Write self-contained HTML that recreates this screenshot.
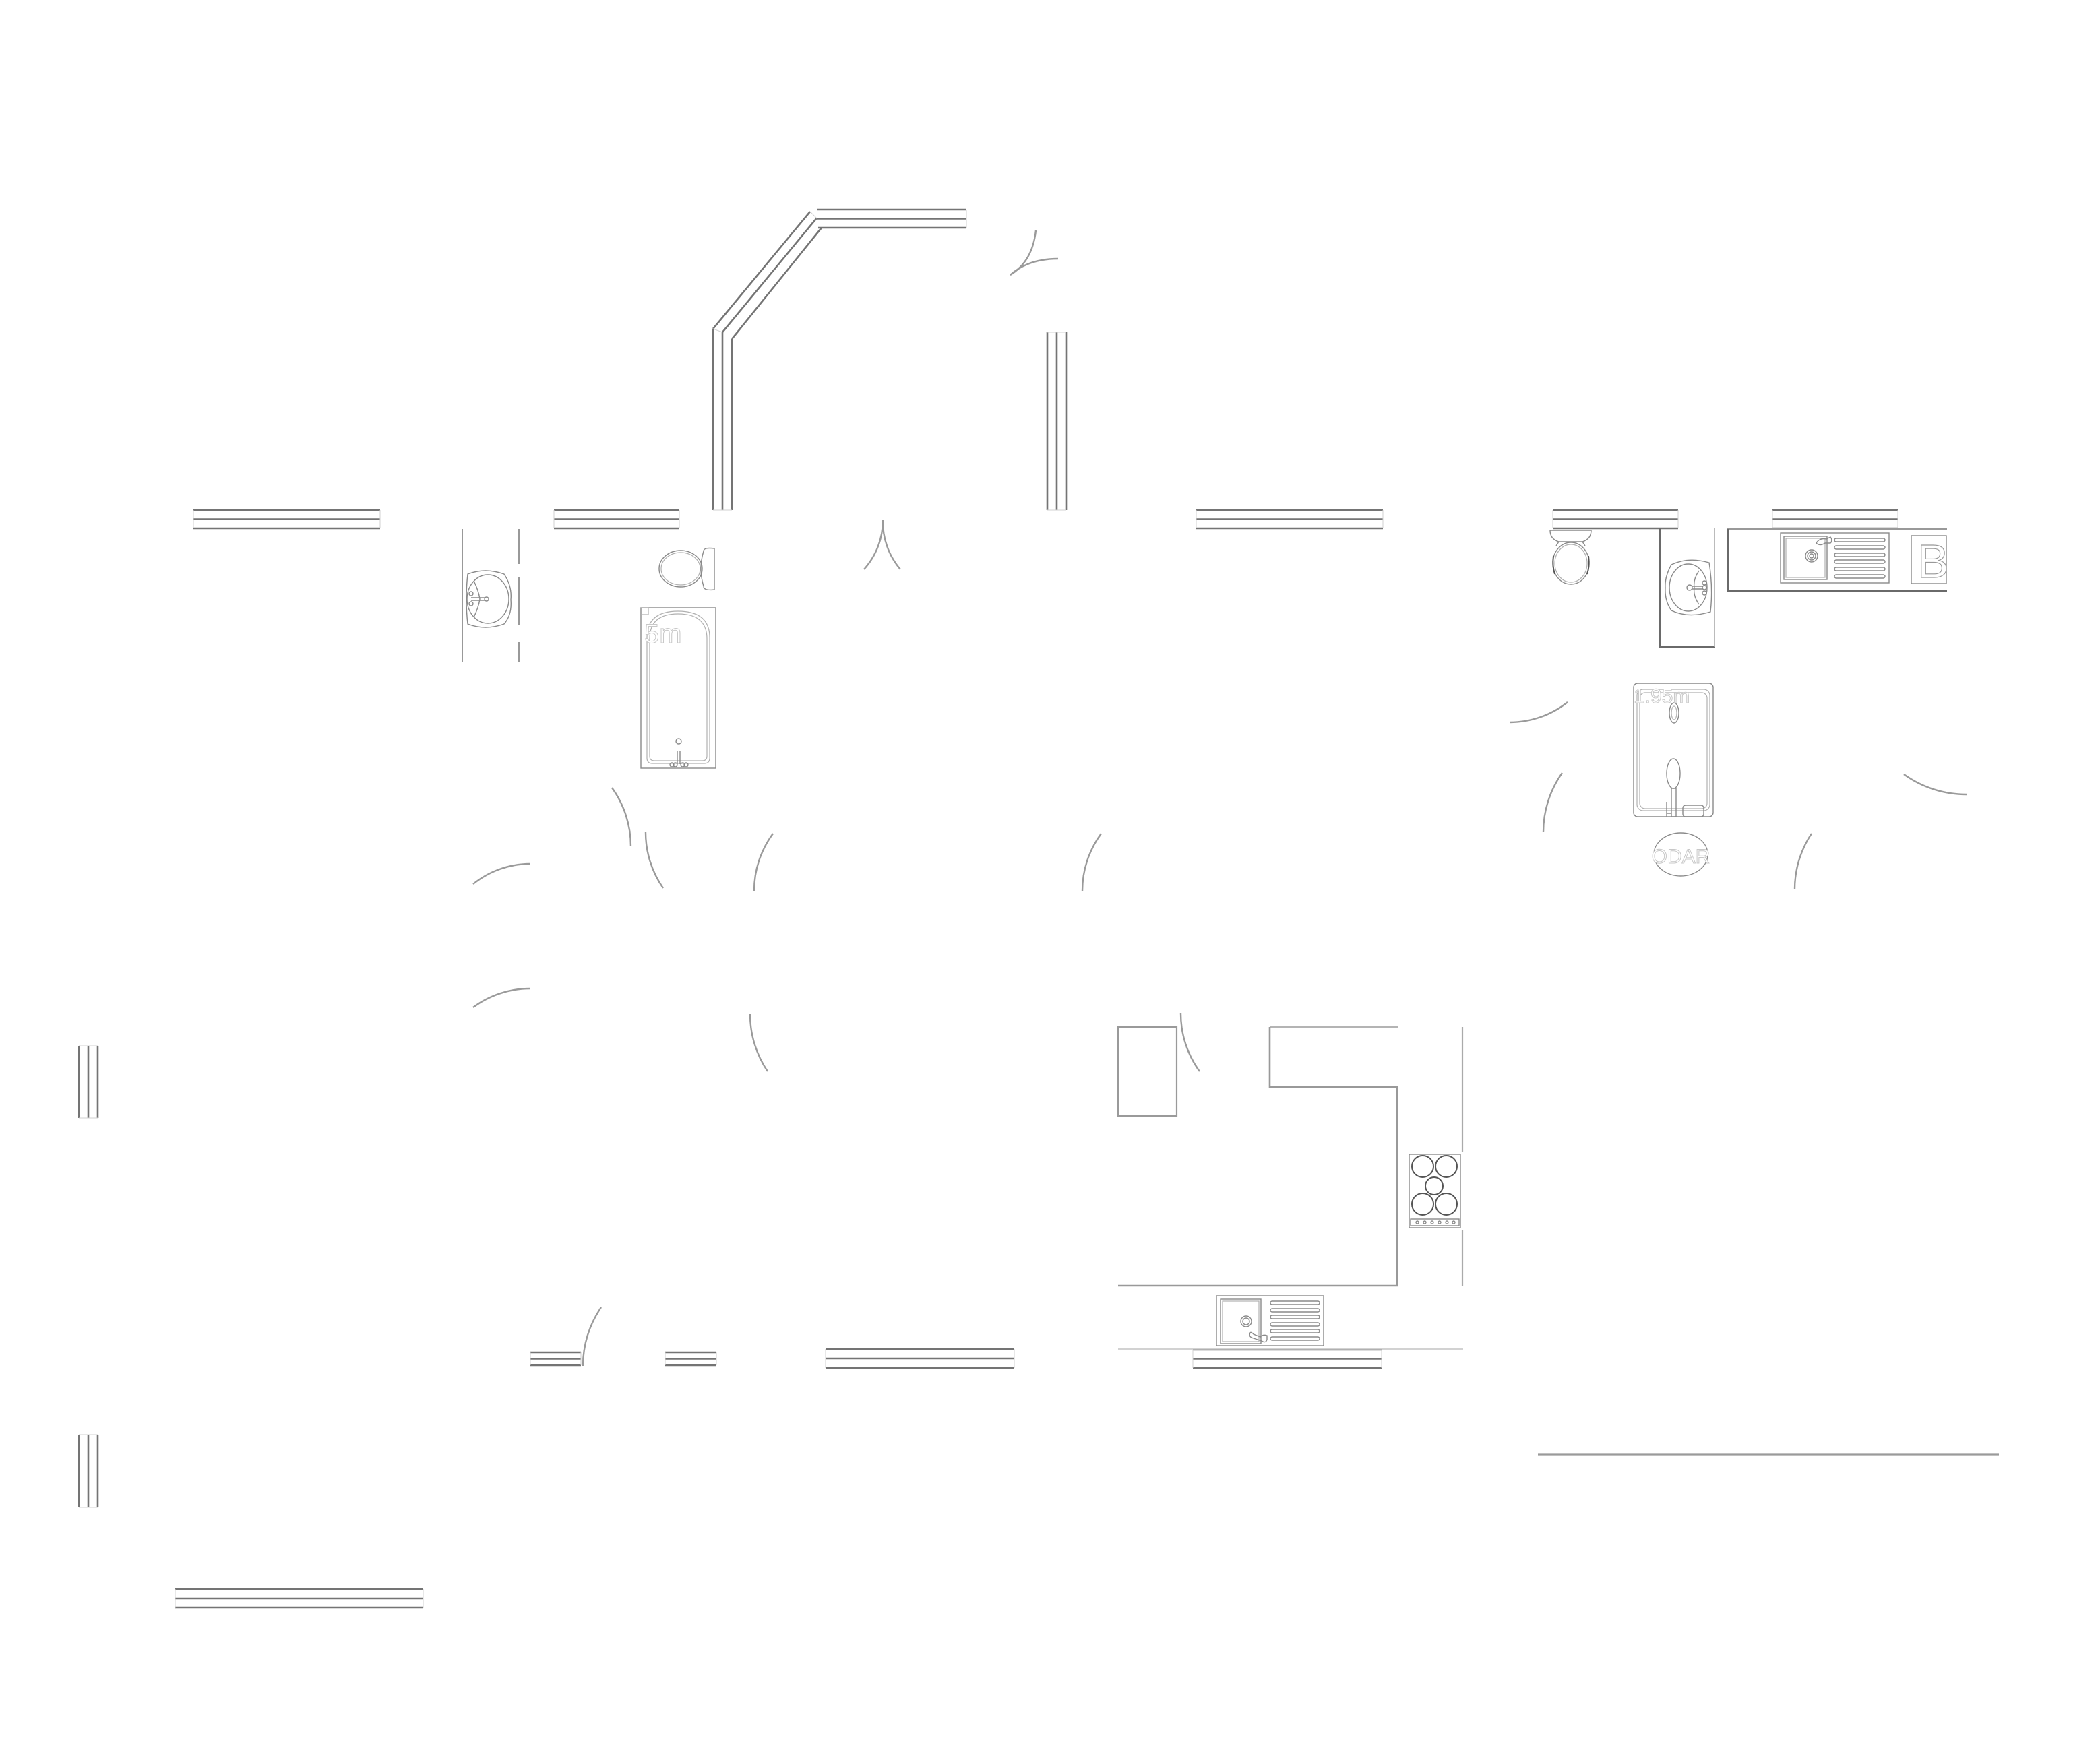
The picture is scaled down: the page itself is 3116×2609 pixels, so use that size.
<!DOCTYPE html>
<html><head><meta charset="utf-8"><style>
html,body{margin:0;padding:0;background:#fff;}
svg{display:block;}
.w{stroke:#747474;stroke-width:2.6;fill:none;}
.c{stroke:#d0d0d0;stroke-width:1;fill:none;}
.a{stroke:#9a9a9a;stroke-width:2.4;fill:none;}
.f{stroke:#8a8a8a;stroke-width:1.4;fill:none;}
.fl{stroke:#b0b0b0;stroke-width:1.2;fill:none;}
.fd{stroke:#6a6a6a;stroke-width:2.6;fill:none;}
.t{font-family:"Liberation Sans",sans-serif;fill:#fff;stroke:#c8c8c8;stroke-width:1;}
</style></head><body>
<svg width="3116" height="2609" viewBox="0 0 3116 2609" xmlns="http://www.w3.org/2000/svg">
<rect width="3116" height="2609" fill="#fff"/>

<!-- Horizontal walls -->
<g class="w">
<path d="M287 757H564M287 770.5H564M287 784H564"/>
<path d="M822 757H1008M822 770.5H1008M822 784H1008"/>
<path d="M1775 757H2052M1775 770.5H2052M1775 784H2052"/>
<path d="M2304 757H2490M2304 770.5H2490M2304 784H2490"/>
<path d="M2630 757H2816M2630 770.5H2816M2630 784H2816"/>
<path d="M1212 311H1434M1212 324.5H1434M1214 338H1434"/>
<path d="M260 2358H628M260 2372H628M260 2386H628"/>
<path d="M787 2007H862M787 2016.5H862M787 2026H862"/>
<path d="M987 2007H1063M987 2016.5H1063M987 2026H1063"/>
<path d="M1225 2002H1505M1225 2016H1505M1225 2030H1505"/>
<path d="M1770 2003H2050M1770 2016.5H2050M1770 2030H2050"/>
<!-- vertical walls -->
<path d="M1058 488V757M1072 493V757M1086 503V757"/>
<path d="M1554 493V757M1568 493V757M1582 493V757"/>
<path d="M117 1552V1659M131 1552V1659M145 1552V1659"/>
<path d="M117 2129V2237M131 2129V2237M145 2129V2237"/>
<!-- diagonal -->
<path d="M1202 314L1058 488M1211.5 324L1072 493M1219 338L1086 503"/>
</g>
<!-- end caps -->
<g class="c">
<path d="M287 757V784M564 757V784M822 757V784M1008 757V784M1775 757V784M2052 757V784"/>
<path d="M2304 757V784M2490 757V784M2630 757V784M2816 757V784M1434 311V338"/>
<path d="M260 2358V2386M628 2358V2386M787 2007V2026M862 2007V2026M987 2007V2026M1063 2007V2026"/>
<path d="M1225 2002V2030M1505 2002V2030M1770 2003V2030M2050 2003V2030"/>
<path d="M1058 757H1086M1554 757H1582M1554 493H1582M117 1552H145M117 1659H145M117 2129H145M117 2237H145"/>
<path d="M1202 314L1212 324M1058 488L1072 493"/>
</g>

<!-- long line bottom right -->
<path d="M2282 2159H2966" stroke="#9a9a9a" stroke-width="3.2" fill="none"/>

<!-- Door arcs -->
<g class="a">
<path d="M908 1169A149 149 0 0 1 936 1256"/>
<path d="M958 1235A145 145 0 0 0 984 1318"/>
<path d="M1147 1237A143 143 0 0 0 1119 1322"/>
<path d="M1634 1237A143 143 0 0 0 1606 1322"/>
<path d="M702 1312A135 135 0 0 1 787 1282"/>
<path d="M702 1495A143 143 0 0 1 787 1467"/>
<path d="M1113 1505A152 152 0 0 0 1139 1590"/>
<path d="M1752 1504A146 146 0 0 0 1780 1590"/>
<path d="M892 1940A154 154 0 0 0 865 2027"/>
<path d="M2240 1072A138 138 0 0 0 2326 1042"/>
<path d="M2318 1147A152 152 0 0 0 2290 1235"/>
<path d="M2825 1149A159 159 0 0 0 2918 1179"/>
<path d="M2688 1237A150 150 0 0 0 2663 1320"/>
<path d="M1310 772A109 109 0 0 1 1282 845"/>
<path d="M1310 772A109 109 0 0 0 1336 845"/>
<path d="M1537 342Q1532 388 1499 408"/>
<path d="M1570 384Q1526 384 1499 408"/>
</g>

<!-- Bathroom 1: basin -->
<path d="M686 785V983" stroke="#999" stroke-width="2" fill="none"/>
<path d="M770 785V837M770 857V927M770 953V983" stroke="#999" stroke-width="2.4" fill="none"/>
<g class="f">
<path d="M694 852Q720 842 748 852Q760 870 758 890Q760 912 748 926Q720 936 694 926Q690 889 694 852Z"/>
<ellipse cx="724" cy="889" rx="31" ry="36"/>
<path d="M703 862Q710 876 712 889Q710 902 703 916"/>
<circle cx="699" cy="881" r="3"/><circle cx="699" cy="896" r="3"/><circle cx="722" cy="889" r="3"/>
<path d="M699 887H719M699 891H719"/>
</g>
<!-- Toilet 1 -->
<g class="f">
<ellipse cx="1010" cy="844" rx="32" ry="27"/>
<ellipse cx="1010" cy="844" rx="29" ry="24" class="fl"/>
<path d="M1044 818Q1044 812 1060 814V875Q1044 877 1044 870Q1036 844 1044 818Z"/>
</g>
<!-- Bathtub -->
<g class="f">
<rect x="951" y="902" width="111" height="238"/>
<path d="M960 1125V946Q960 907 1006 907Q1053 907 1053 946V1125Q1053 1133 1045 1133H968Q960 1133 960 1125Z" class="fl"/>
<path d="M964 1122V948Q964 911 1006 911Q1049 911 1049 948V1122Q1049 1129 1042 1129H971Q964 1129 964 1122Z" class="fl"/>
<circle cx="1007" cy="1100" r="4"/>
<path d="M1005 1114V1134M1009 1114V1134"/>
<circle cx="997" cy="1135" r="3"/><circle cx="1002" cy="1135" r="3"/><circle cx="1013" cy="1135" r="3"/><circle cx="1018" cy="1135" r="3"/>
<path d="M951 902H962V912H951" class="fl"/>
</g>
<text x="956" y="954" class="t" font-size="40">5m</text>

<!-- Top right: toilet 2 -->
<g class="f">
<path d="M2300 787H2361Q2361 800 2348 804H2313Q2300 800 2300 787Z"/>
<path d="M2313 804L2309 810M2348 804L2352 810"/>
<ellipse cx="2331" cy="836" rx="27" ry="31"/>
<ellipse cx="2331" cy="836" rx="24" ry="28" class="fl"/>
<path d="M2305 825Q2303 840 2307 852M2357 825Q2359 840 2355 852" stroke="#555" stroke-width="2"/>
</g>
<!-- sink cabinet 2 -->
<path d="M2463 784V960H2544" class="fd" stroke-width="2.4"/>
<path d="M2544 784V960" stroke="#aaa" stroke-width="1.6" fill="none"/>
<g class="f">
<path d="M2536 835Q2505 826 2480 838Q2470 856 2471 872Q2470 892 2480 906Q2505 918 2538 908Q2542 872 2536 835Z"/>
<ellipse cx="2505" cy="872" rx="28" ry="35"/>
<path d="M2521 847Q2512 860 2514 872Q2512 884 2521 897"/>
<circle cx="2507" cy="872" r="4"/>
<circle cx="2529" cy="865" r="3"/><circle cx="2529" cy="872" r="3"/><circle cx="2529" cy="880" r="3"/>
<path d="M2511 870H2527M2511 874H2527"/>
</g>
<!-- Kitchen counter top right -->
<path d="M2889 785H2564V877H2889" stroke="#999" stroke-width="2.2" fill="none"/>
<path d="M2564 785V877H2889" class="fd" stroke-width="2.2"/>
<g class="f">
<rect x="2642" y="791" width="161" height="74"/>
<rect x="2647" y="796" width="64" height="64"/>
<rect x="2650" y="799" width="58" height="58" class="fl"/>
<circle cx="2688" cy="825" r="9"/><circle cx="2688" cy="825" r="6"/><circle cx="2688" cy="825" r="3"/>
<path d="M2695 806Q2700 798 2710 800L2716 797Q2720 802 2716 806L2708 806Q2700 811 2695 806Z"/>
<rect x="2722" y="799" width="75" height="5" rx="2.5"/>
<rect x="2722" y="810" width="75" height="5" rx="2.5"/>
<rect x="2722" y="821" width="75" height="5" rx="2.5"/>
<rect x="2722" y="831" width="75" height="5" rx="2.5"/>
<rect x="2722" y="842" width="75" height="5" rx="2.5"/>
<rect x="2722" y="853" width="75" height="5" rx="2.5"/>
<rect x="2836" y="795" width="52" height="71"/>
</g>
<text x="2845" y="857" font-family="Liberation Sans, sans-serif" font-size="70" fill="#fff" stroke="#999" stroke-width="1.2">B</text>

<!-- Shower tray -->
<g class="f">
<rect x="2424" y="1014" width="118" height="198" rx="6"/>
<rect x="2429" y="1023" width="108" height="180" rx="9" class="fl"/>
<rect x="2433" y="1028" width="100" height="172" rx="8" class="fl"/>
<ellipse cx="2484" cy="1058" rx="7" ry="15"/>
<ellipse cx="2484" cy="1058" rx="4" ry="10" class="fl"/>
<ellipse cx="2483" cy="1148" rx="10" ry="22"/>
<rect x="2480" y="1170" width="7" height="42"/>
<path d="M2473 1190V1212M2473 1207H2480"/>
<rect x="2497" y="1195" width="31" height="17" rx="4"/>
</g>
<text x="2424" y="1043" class="t" font-size="30">1.95m</text>
<!-- logo -->
<ellipse cx="2494" cy="1268" rx="40" ry="32" class="f" stroke="#aaa"/>
<text x="2494" y="1281" text-anchor="middle" class="t" font-size="30">ODAR</text>

<!-- Kitchen -->
<rect x="1659" y="1524" width="87" height="132" stroke="#9a9a9a" stroke-width="2.2" fill="none"/>
<path d="M2074 1524H1884" stroke="#aaa" stroke-width="1.8" fill="none"/>
<path d="M1884 1524V1613H2073V1908H1659" stroke="#999" stroke-width="2.6" fill="none"/>
<path d="M2170 1524V1709M2170 1825V1908" stroke="#aaa" stroke-width="2.2" fill="none"/>
<path d="M1659 2002H2171" stroke="#c4c4c4" stroke-width="1.4" fill="none"/>
<g class="f">
<rect x="2091" y="1713" width="76" height="109"/>
</g>
<g stroke="#555" stroke-width="2" fill="none">
<circle cx="2111" cy="1731" r="16"/><circle cx="2146" cy="1731" r="16"/>
<circle cx="2128" cy="1760" r="13"/>
<circle cx="2111" cy="1787" r="16"/><circle cx="2146" cy="1787" r="16"/>
</g>
<g class="f">
<rect x="2093" y="1809" width="72" height="10"/>
<circle cx="2103" cy="1814" r="2"/><circle cx="2114" cy="1814" r="2"/><circle cx="2125" cy="1814" r="2"/><circle cx="2136" cy="1814" r="2"/><circle cx="2147" cy="1814" r="2"/><circle cx="2157" cy="1814" r="2"/>
</g>
<g class="f">
<rect x="1805" y="1923" width="159" height="74"/>
<rect x="1811" y="1928" width="60" height="66"/>
<rect x="1814" y="1931" width="54" height="60" class="fl"/>
<circle cx="1849" cy="1961" r="8"/><circle cx="1849" cy="1961" r="5"/>
<path d="M1855 1978Q1852 1984 1860 1986L1872 1990Q1878 1994 1880 1988L1880 1982Q1874 1980 1870 1984L1860 1980Q1856 1976 1855 1978Z"/>
<rect x="1885" y="1931" width="73" height="5" rx="2.5"/>
<rect x="1885" y="1942" width="73" height="5" rx="2.5"/>
<rect x="1885" y="1952" width="73" height="5" rx="2.5"/>
<rect x="1885" y="1963" width="73" height="5" rx="2.5"/>
<rect x="1885" y="1973" width="73" height="5" rx="2.5"/>
<rect x="1885" y="1984" width="73" height="5" rx="2.5"/>
</g>
</svg>
</body></html>
